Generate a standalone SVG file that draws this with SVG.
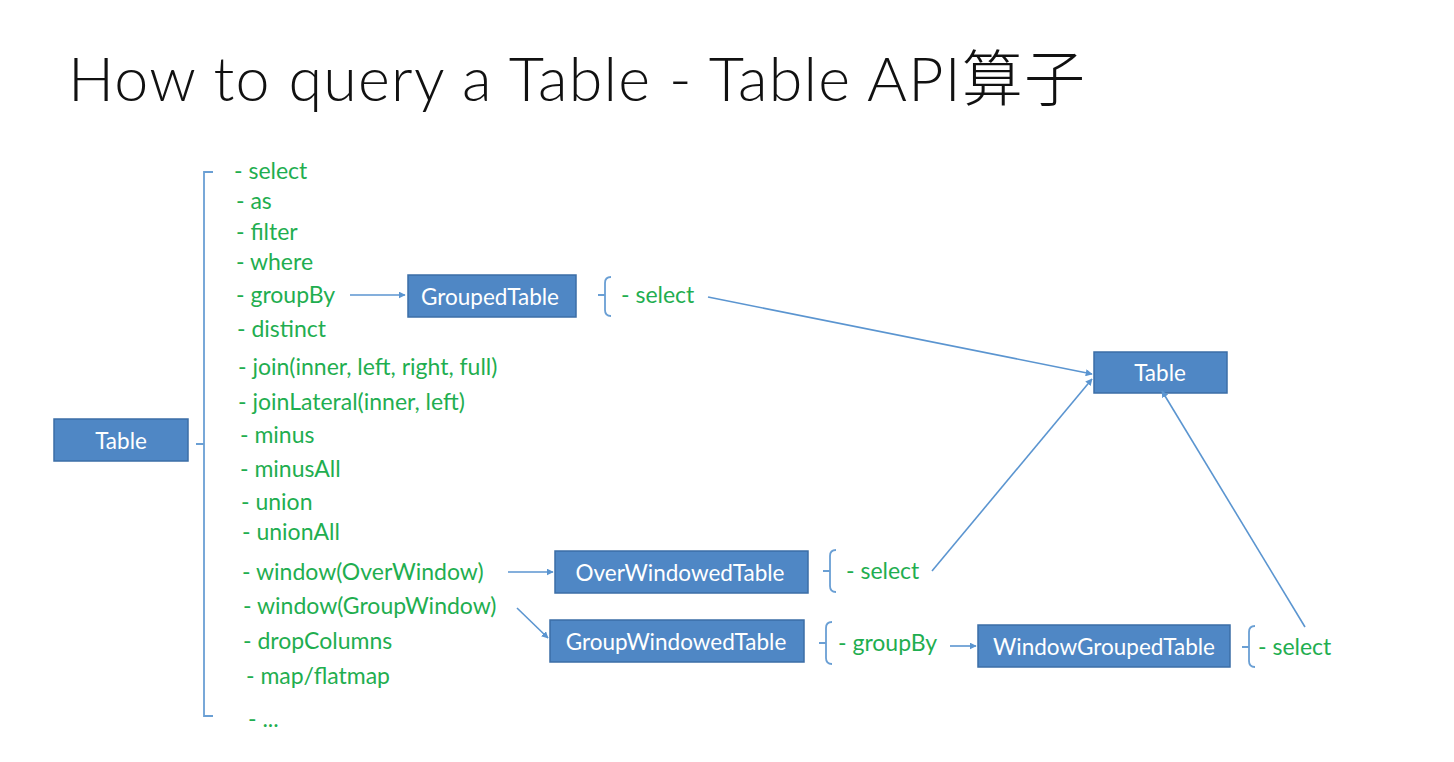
<svg xmlns="http://www.w3.org/2000/svg" width="1454" height="762" viewBox="0 0 1454 762">
<style>
.title{font-family:Lato,"Noto Sans CJK SC",sans-serif;font-weight:300;font-size:61px;fill:#111}
.op{font-family:Lato,"Noto Sans",sans-serif;font-size:23px;fill:#1fae50}
.box{fill:#4f87c5;stroke:#3b6ea6;stroke-width:1.5}
.bt{font-family:Lato,"Noto Sans",sans-serif;font-size:22.5px;fill:#fff;text-anchor:middle;dominant-baseline:central}
.br{fill:none;stroke:#6a9fd4;stroke-width:1.8}
.cn{fill:none;stroke:#5b95d0;stroke-width:1.6}
</style>
<defs>
<marker id="ah" viewBox="0 0 10 10" refX="9" refY="5" markerWidth="7" markerHeight="7" orient="auto" markerUnits="userSpaceOnUse">
<path d="M0,0 L10,5 L0,10 z" fill="#5b95d0"/>
</marker>
</defs>
<rect width="1454" height="762" fill="#fff"/>
<text class="title" x="68" y="101" textLength="1017" lengthAdjust="spacing">How to query a Table - Table API算子</text>

<g id="table-src"><rect class="box" x="54" y="419" width="134" height="42"/><text class="bt" x="121" y="440">Table</text></g>
<g id="grouped-table"><rect class="box" x="408" y="275" width="168" height="42"/><text class="bt" x="490" y="296">GroupedTable</text></g>
<g id="table-dst"><rect class="box" x="1094" y="352" width="133" height="41"/><text class="bt" x="1160" y="372">Table</text></g>
<g id="over-windowed-table"><rect class="box" x="555" y="551" width="253" height="42"/><text class="bt" x="680" y="572">OverWindowedTable</text></g>
<g id="group-windowed-table"><rect class="box" x="550" y="620" width="254" height="42"/><text class="bt" x="676" y="641">GroupWindowedTable</text></g>
<g id="window-grouped-table"><rect class="box" x="978" y="625" width="252" height="42"/><text class="bt" x="1104" y="646">WindowGroupedTable</text></g>

<g id="ops">
<path class="br" d="M213,172 H204 V716 H213 M204,444 H196"/>
<text class="op" x="234" y="179">- select</text>
<text class="op" x="236" y="209">- as</text>
<text class="op" x="236" y="240">- filter</text>
<text class="op" x="236" y="270">- where</text>
<text class="op" x="236" y="303">- groupBy</text>
<text class="op" x="237" y="337">- distinct</text>
<text class="op" x="238" y="375">- join(inner, left, right, full)</text>
<text class="op" x="238" y="410">- joinLateral(inner, left)</text>
<text class="op" x="240" y="443">- minus</text>
<text class="op" x="240" y="477">- minusAll</text>
<text class="op" x="241" y="510">- union</text>
<text class="op" x="242" y="540">- unionAll</text>
<text class="op" x="242" y="580">- window(OverWindow)</text>
<text class="op" x="243" y="614">- window(GroupWindow)</text>
<text class="op" x="243" y="649">- dropColumns</text>
<text class="op" x="246" y="684">- map/flatmap</text>
<text class="op" x="248" y="727">- ...</text>
</g>

<g id="grouped-ops">
<path class="br" d="M611,277 Q605,277 605,283 V310 Q605,316 611,316 M605,295 H598"/>
<text class="op" x="621" y="303">- select</text>
</g>
<g id="over-ops">
<path class="br" d="M836,550 Q830,550 830,556 V586 Q830,592 836,592 M830,571 H823"/>
<text class="op" x="846" y="579">- select</text>
</g>
<g id="gw-ops">
<path class="br" d="M832,622 Q826,622 826,628 V658 Q826,664 832,664 M826,643 H819"/>
<text class="op" x="838" y="651">- groupBy</text>
</g>
<g id="wg-ops">
<path class="br" d="M1255,626 Q1249,626 1249,632 V661 Q1249,667 1255,667 M1249,647 H1242"/>
<text class="op" x="1258" y="655">- select</text>
</g>

<g id="connectors">
<line class="cn" x1="350" y1="295" x2="405" y2="295" marker-end="url(#ah)"/>
<line class="cn" x1="708" y1="297" x2="1092" y2="374" marker-end="url(#ah)"/>
<line class="cn" x1="932" y1="571" x2="1092" y2="379" marker-end="url(#ah)"/>
<line class="cn" x1="508" y1="572" x2="553" y2="572" marker-end="url(#ah)"/>
<line class="cn" x1="517" y1="608" x2="548" y2="638" marker-end="url(#ah)"/>
<line class="cn" x1="950" y1="646" x2="976" y2="646" marker-end="url(#ah)"/>
<line class="cn" x1="1305" y1="627" x2="1162" y2="391" marker-end="url(#ah)"/>
</g>
</svg>
